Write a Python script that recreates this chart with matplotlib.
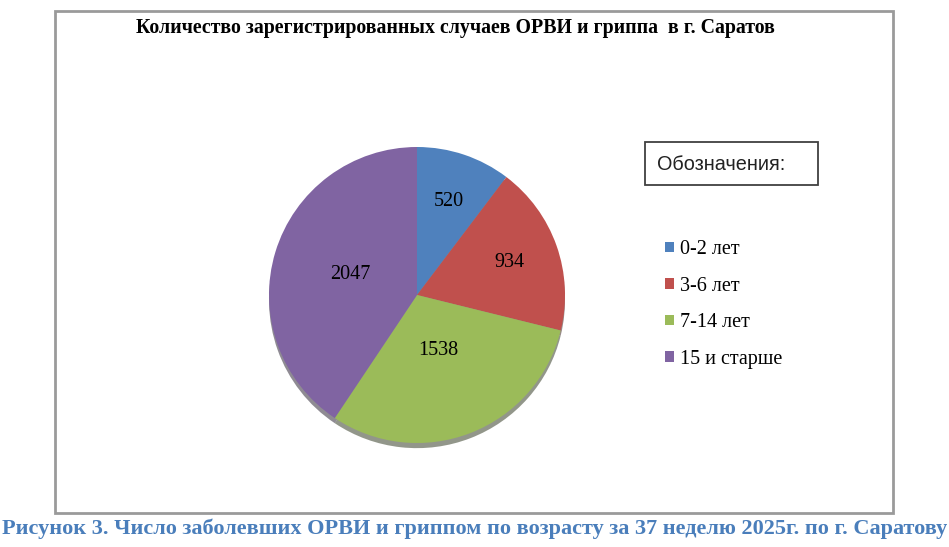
import numpy as np
import matplotlib.pyplot as plt
from matplotlib.patches import Rectangle

# data
groups = ["0-2 лет", "3-6 лет", "7-14 лет", "15 и старше"]
cases = [520, 934, 1538, 2047]
colors = ["#4f81bd", "#c0504d", "#9bbb59", "#8064a2"]

title = "Количество зарегистрированных случаев ОРВИ и гриппа  в г. Саратов"
caption = "Рисунок 3. Число заболевших ОРВИ и гриппом по возрасту за 37 неделю 2025г. по г. Саратову"

W, H = 949, 547
fig = plt.figure(figsize=(W / 100, H / 100), dpi=100)

def fx(px):
    return px / W

def fy(py):
    return 1 - py / H

# outer chart frame
fig.patches.append(Rectangle((fx(55), fy(513)), fx(893) - fx(55), fy(11) - fy(513),
                             transform=fig.transFigure, fill=False,
                             edgecolor="#9a9a9a", linewidth=2))

fig.text(fx(455), fy(28), title, ha="center", va="center",
         fontsize=14.3, fontweight="bold", family="Liberation Serif")

# pie axes, centre ~(417,295) px, radius ~148 px
cx, cy, r = 417, 295, 148
lim = 1.15
half = r * lim
ax = fig.add_axes([fx(cx - half), fy(cy + half), 2 * half / W, 2 * half / H])
wedges, _ = ax.pie(cases, colors=colors, startangle=90, counterclock=False,
                   wedgeprops=dict(linewidth=0),
                   shadow=dict(ox=0.0, oy=-0.025, shade=0.75))
ax.set_xlim(-lim, lim)
ax.set_ylim(-lim, lim)
ax.set_aspect("equal")
ax.axis("off")

label_r = [0.67, 0.66, 0.40, 0.47]
for w, v, d in zip(wedges, cases, label_r):
    ang = np.deg2rad((w.theta1 + w.theta2) / 2)
    ax.text(d * np.cos(ang), d * np.sin(ang), str(v), ha="center", va="center",
            fontsize=14.5, family="Liberation Serif")

# "Обозначения:" box
fig.patches.append(Rectangle((fx(645), fy(185)), fx(818) - fx(645), fy(142) - fy(185),
                             transform=fig.transFigure, fill=False,
                             edgecolor="#404040", linewidth=1.3))
fig.text(fx(657), fy(164), "Обозначения:", ha="left", va="center",
         fontsize=14.3, family="Liberation Sans", color="#222222")

leg = fig.legend(wedges, groups, loc="upper left", bbox_to_anchor=(fx(647), fy(222)),
                 frameon=False, prop=dict(family="Liberation Serif", size=14.5),
                 handlelength=0.45, handleheight=0.45, handletextpad=0.3,
                 labelspacing=0.87)

fig.text(fx(475), fy(529), caption, ha="center", va="center",
         fontsize=16, fontweight="bold", family="Liberation Serif", color="#4a7ebb")

fig.savefig("out.png", dpi=100)
